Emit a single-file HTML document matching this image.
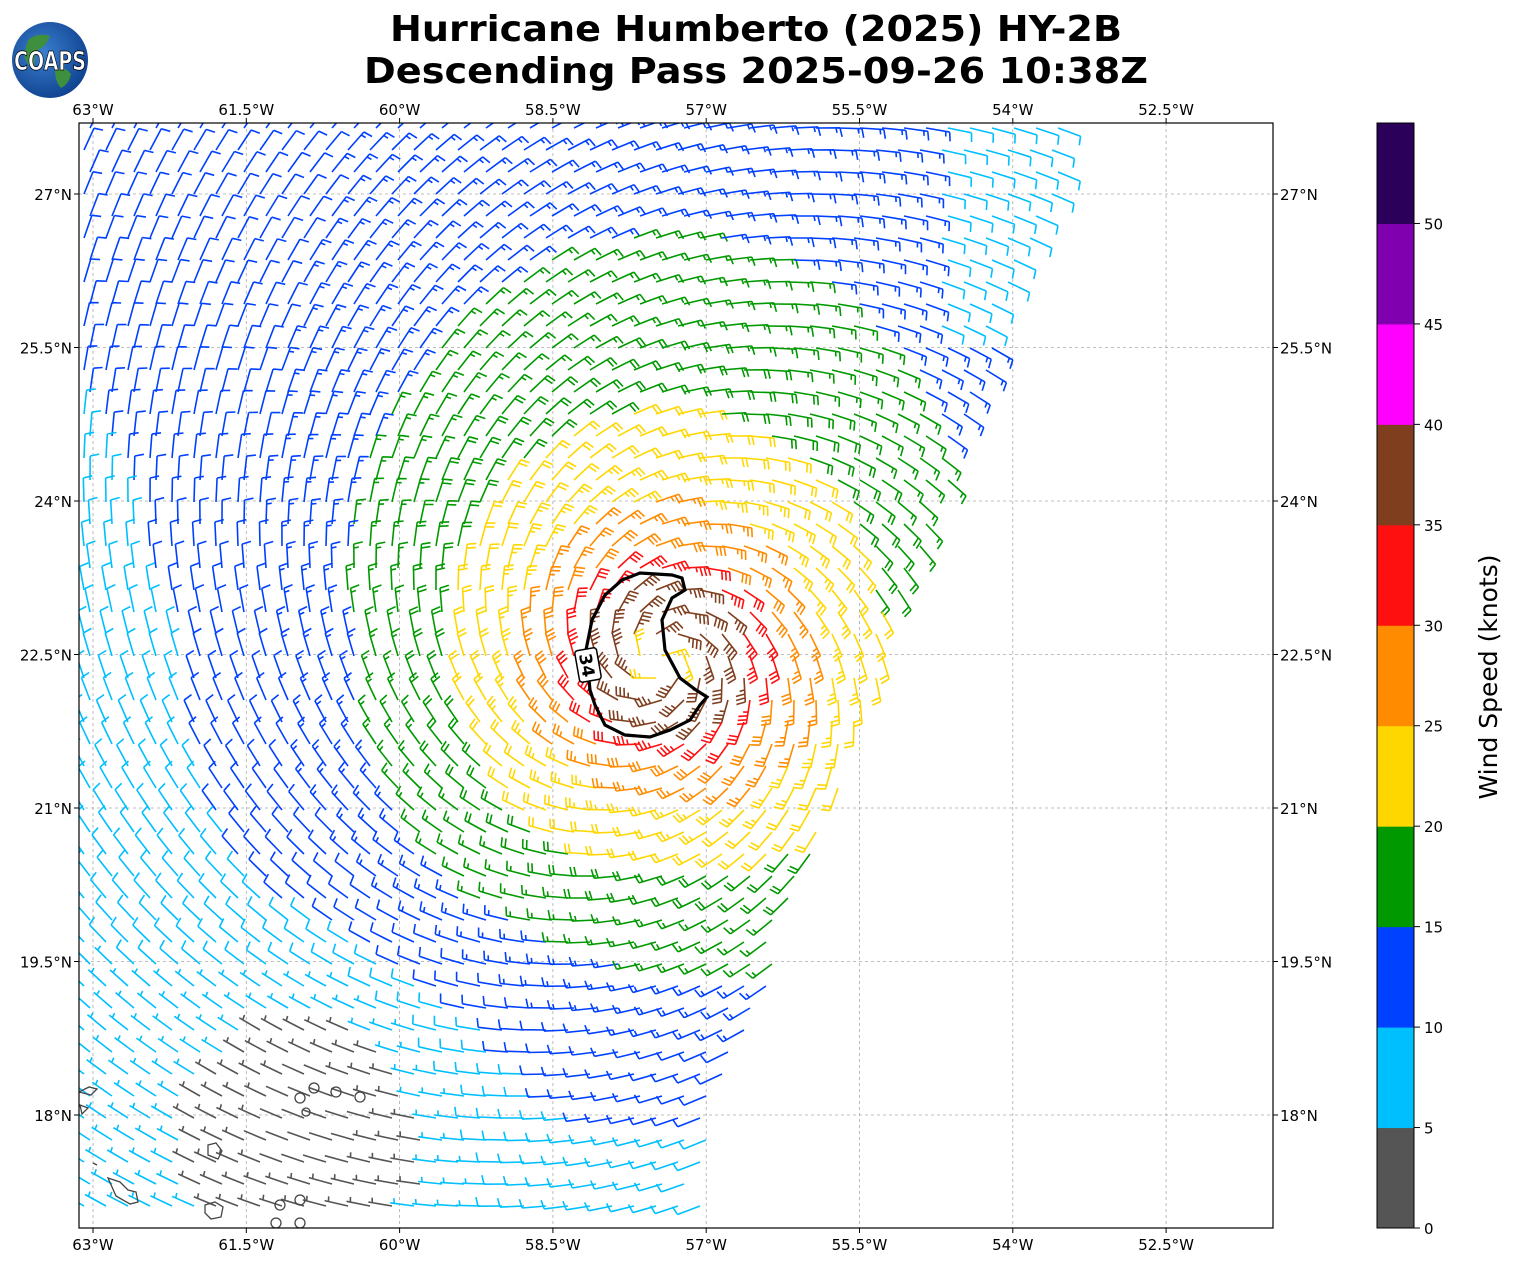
<!DOCTYPE html>
<html><head><meta charset="utf-8"><style>
body{margin:0;background:#fff;width:1513px;height:1264px;overflow:hidden;font-family:"DejaVu Sans","Liberation Sans",sans-serif}
</style></head><body>
<svg id="s" width="1513" height="1264" xmlns="http://www.w3.org/2000/svg" style="position:absolute;left:0;top:0" font-family="DejaVu Sans, Liberation Sans, sans-serif">
<defs><clipPath id="c"><rect x="79" y="123" width="1194" height="1105"/></clipPath>
<radialGradient id="g" cx="0.4" cy="0.4" r="0.7"><stop offset="0" stop-color="#3b7fd0"/><stop offset="1" stop-color="#0b3d8a"/></radialGradient></defs>
<circle cx="50" cy="60" r="38" fill="url(#g)"/>
<path d="M28,40 q10,-8 22,-4 q-4,10 -12,14 q-6,8 -2,20 q-10,-4 -12,-16z M55,70 q10,-4 16,4 q-2,10 -10,14 q-6,-6 -6,-18z" fill="#3e8f3e"/>
<text x="50" y="70" font-size="26" font-weight="bold" fill="#fff" stroke="#000" stroke-width="0.8" text-anchor="middle" textLength="72" lengthAdjust="spacingAndGlyphs">COAPS</text>
<text x="756" y="41" font-size="36" font-weight="bold" text-anchor="middle" textLength="732" lengthAdjust="spacingAndGlyphs">Hurricane Humberto (2025) HY-2B</text>
<text x="756" y="83" font-size="36" font-weight="bold" text-anchor="middle" textLength="784" lengthAdjust="spacingAndGlyphs">Descending Pass 2025-09-26 10:38Z</text>
<g id="grid" stroke="#aaa" stroke-width="0.8" stroke-dasharray="3,3"></g>
<g id="barbs" clip-path="url(#c)" fill="none" stroke-width="1.6"></g>
<g clip-path="url(#c)" fill="none" stroke="#444" stroke-width="1.3">
<path d="M79,1092 l10,-5 8,2 -6,6z M80,1105 l8,3 -6,6z M108,1178 l12,4 8,8 8,2 2,10 -8,2 -14,-8z M208,1145 l8,-2 6,8 -4,8 -10,-4z M205,1205 l10,-3 8,5 -2,10 -10,2 -6,-6z M93,1163 l4,2"/>
<circle cx="314" cy="1088" r="5"/><circle cx="336" cy="1092" r="5"/><circle cx="360" cy="1097" r="5"/><circle cx="300" cy="1098" r="5"/><circle cx="306" cy="1112" r="4"/><circle cx="280" cy="1205" r="5"/><circle cx="300" cy="1200" r="5"/><circle cx="276" cy="1223" r="5"/><circle cx="300" cy="1223" r="5"/>
</g>
<path d="M590,690 L586,650 L592,620 L605,595 L622,580 L640,573 L672,575 L682,578 L685,590 L672,598 L662,620 L665,650 L680,678 L696,690 L707,697 L700,705 L690,720 L670,730 L650,737 L625,735 L605,725 L595,705z" fill="none" stroke="#000" stroke-width="3.2"/>
<g transform="translate(588,665) rotate(80)"><rect x="-16" y="-11" width="32" height="22" rx="3" fill="#fff" stroke="#000" stroke-width="1.5"/><text x="0" y="7" font-size="17" font-weight="bold" text-anchor="middle">34</text></g>
<rect x="79" y="123" width="1194" height="1105" fill="none" stroke="#000" stroke-width="1.2"/>
<g id="ticks" font-size="15"></g>
<g id="cb"></g>
<text transform="translate(1497,677) rotate(-90)" font-size="25" text-anchor="middle">Wind Speed (knots)</text>
</svg>
<script>
var NS="http://www.w3.org/2000/svg";
function el(p,t,a,txt){var e=document.createElementNS(NS,t);for(var k in a)e.setAttribute(k,a[k]);if(txt!=null)e.textContent=txt;p.appendChild(e);return e;}
var grid=document.getElementById('grid'),ticks=document.getElementById('ticks');
var lons=["63°W","61.5°W","60°W","58.5°W","57°W","55.5°W","54°W","52.5°W"];
var lats=["27°N","25.5°N","24°N","22.5°N","21°N","19.5°N","18°N"];
for(var i=0;i<8;i++){var x=93+i*153.3;el(grid,'line',{x1:x,y1:123,x2:x,y2:1228});
el(ticks,'text',{x:x,y:115,'text-anchor':'middle'},lons[i]);el(ticks,'text',{x:x,y:1250,'text-anchor':'middle'},lons[i]);
el(ticks,'line',{x1:x,y1:118,x2:x,y2:123,stroke:'#000'});el(ticks,'line',{x1:x,y1:1228,x2:x,y2:1233,stroke:'#000'});}
for(var j=0;j<7;j++){var y=194+j*153.5;el(grid,'line',{x1:79,y1:y,x2:1273,y2:y});
el(ticks,'text',{x:72,y:y+6,'text-anchor':'end'},lats[j]);el(ticks,'text',{x:1280,y:y+6},lats[j]);
el(ticks,'line',{x1:74,y1:y,x2:79,y2:y,stroke:'#000'});el(ticks,'line',{x1:1273,y1:y,x2:1278,y2:y,stroke:'#000'});}
var cols=["#555555","#00bfff","#0040ff","#009900","#ffd700","#ff8c00","#ff1010","#7f3f1f","#ff00ff","#8000b0","#2a005a"];
var cb=document.getElementById('cb'),h=1105/11;
for(var k=0;k<11;k++){el(cb,'rect',{x:1377,y:1228-(k+1)*h,width:37,height:h+0.5,fill:cols[k]});}
el(cb,'rect',{x:1377,y:123,width:37,height:1105,fill:'none',stroke:'#000','stroke-width':1});
for(var k=0;k<=10;k++){var y=1228-k*h;el(cb,'line',{x1:1414,y1:y,x2:1420,y2:y,stroke:'#000'});el(cb,'text',{x:1424,y:y+6,'font-size':15},String(k*5));}
var bg=document.getElementById('barbs');
var cx=662,cy=658;
function col(s){var k=Math.floor(s/5);if(k<0)k=0;if(k>10)k=10;return cols[k];}
for(var y=128;y<1228;y+=22){
 var xmax=y<1170?1072-(y-140)*0.36:705;
 for(var x=84+((y/22|0)%2)*6;x<xmax;x+=22){
  var dx=x-cx,dy=y-cy,dym=-dy,r=Math.sqrt(dx*dx+dym*dym)+1;
  var ue=-dym-0.3*dx,vn=dx-0.3*dym;
  var v;
  if(r<25)v=18;else if(r<65)v=32;else if(r<130)v=32-(r-65)*11/65;else v=21*Math.exp(-(r-130)/240);
  if(dx>0&&r>60)v*=1+0.12*Math.min(1,dx/150)*Math.max(0,Math.min(1,(dy+80)/120));
  var d2=(x-330)*(x-330)+(y-1110)*(y-1110);
  var b0=5+Math.max(0,(660-y))*0.009;
  var s=v+b0-7*Math.exp(-d2/(2*95*95));
  if(x>930&&y<330)s-=4;
  var m=Math.sqrt(ue*ue+vn*vn)||1;var ux=ue/m,uy=-vn/m;
  var dxs=-ux,dys=-uy,L=24;
  var ex=x+dxs*L,ey=y+dys*L;
  var nx=-dys,ny=dxs;
  var c=col(s),d="M"+x.toFixed(1)+","+y.toFixed(1)+"L"+ex.toFixed(1)+","+ey.toFixed(1);
  var q=Math.round(s/5)*5,pos=0;
  var n10=Math.floor(q/10),n5=(q%10)?1:0;
  if(n10==0&&n5==1)pos=4;
  for(var b=0;b<n10;b++){var px=ex-dxs*pos,py=ey-dys*pos;d+="M"+px.toFixed(1)+","+py.toFixed(1)+"l"+(nx*9+dxs*2).toFixed(1)+","+(ny*9+dys*2).toFixed(1);pos+=4;}
  if(n5){var px=ex-dxs*pos,py=ey-dys*pos;d+="M"+px.toFixed(1)+","+py.toFixed(1)+"l"+(nx*5+dxs*1).toFixed(1)+","+(ny*5+dys*1).toFixed(1);}
  el(bg,'path',{d:d,stroke:c});
 }}
</script>
</body></html>
